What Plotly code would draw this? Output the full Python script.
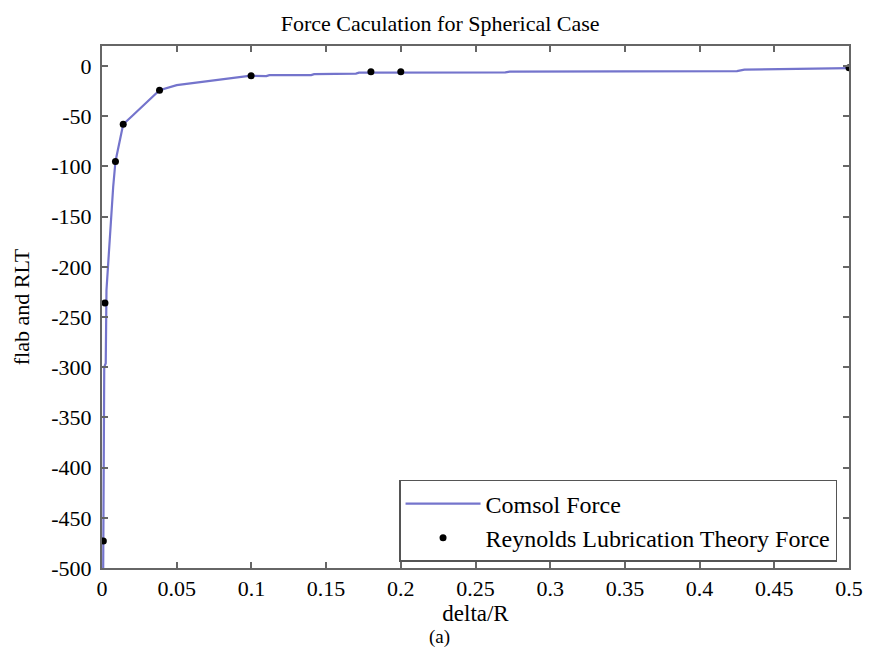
import plotly.graph_objects as go

# Comsol Force (line)
comsol_x = [0.0008, 0.001, 0.0015, 0.0025, 0.003, 0.004, 0.005, 0.0065, 0.0075, 0.009,
            0.0142, 0.02, 0.03, 0.0385, 0.05, 0.06, 0.08, 0.0998, 0.11, 0.112, 0.14, 0.142,
            0.17, 0.172, 0.27, 0.273, 0.425, 0.43, 0.5]
comsol_y = [-500, -412, -300, -296, -223, -200, -175, -145, -120, -95,
            -58, -50, -36, -24, -19, -17, -13, -9.6, -10, -9, -9, -8,
            -7.5, -6.5, -6.3, -5.5, -5, -3.5, -2]

# Reynolds Lubrication Theory Force (points)
rlt_x = [0.0009, 0.002, 0.009, 0.0142, 0.0385, 0.0998, 0.18, 0.2, 0.5]
rlt_y = [-473, -236, -95, -58, -24, -9.6, -5.7, -5.7, -1.7]

x_ticks = [0, 0.05, 0.1, 0.15, 0.2, 0.25, 0.3, 0.35, 0.4, 0.45, 0.5]
x_tick_labels = ["0", "0.05", "0.1", "0.15", "0.2", "0.25", "0.3", "0.35", "0.4", "0.45", "0.5"]
y_ticks = [0, -50, -100, -150, -200, -250, -300, -350, -400, -450, -500]
y_tick_labels = ["0", "-50", "-100", "-150", "-200", "-250", "-300", "-350", "-400", "-450", "-500"]

FONT = "Liberation Serif"
AX = "#666666"

fig = go.Figure()
fig.add_trace(go.Scatter(x=comsol_x, y=comsol_y, mode="lines", name="Comsol Force",
                         line=dict(color="#7474cc", width=2.2)))
fig.add_trace(go.Scatter(x=rlt_x, y=rlt_y, mode="markers", name="Reynolds Lubrication Theory Force",
                         marker=dict(color="black", size=7)))

axis_common = dict(showline=True, linecolor=AX, linewidth=2, mirror="allticks",
                   ticks="inside", ticklen=6, tickcolor=AX, tickwidth=1.5,
                   showgrid=False, zeroline=False,
                   tickfont=dict(family=FONT, size=22, color="black"))

fig.update_layout(
    width=875, height=652,
    margin=dict(l=102, r=20, t=46, b=84),
    paper_bgcolor="white", plot_bgcolor="white",
    title=dict(text="Force Caculation for Spherical Case", x=0.503, xanchor="center",
               y=1 - 23 / 652, yanchor="middle", xref="container",
               font=dict(family=FONT, size=22, color="black")),
    xaxis=dict(range=[0, 0.5], tickvals=x_ticks, ticktext=x_tick_labels, ticklabelstandoff=0,
               title=dict(text="delta/R", font=dict(family=FONT, size=23, color="black"), standoff=2),
               **axis_common),
    yaxis=dict(range=[-500, 20], tickvals=y_ticks, ticktext=y_tick_labels, ticklabelstandoff=4,
               title=dict(text="flab and RLT", font=dict(family=FONT, size=22, color="black"), standoff=16),
               **axis_common),
    legend=dict(x=0.984, y=0.0115, xanchor="right", yanchor="bottom", bgcolor="white",
                bordercolor="#555555", borderwidth=1.5, tracegroupgap=0,
                font=dict(family=FONT, size=24, color="black"), itemwidth=75),
    showlegend=True,
)

fig.add_annotation(text="(a)", xref="paper", yref="paper", x=(442 - 102) / 753, y=(568 - 637) / 522,
                   xanchor="center", yanchor="middle", showarrow=False,
                   font=dict(family=FONT, size=19, color="black"))

fig.write_html("out.html")
